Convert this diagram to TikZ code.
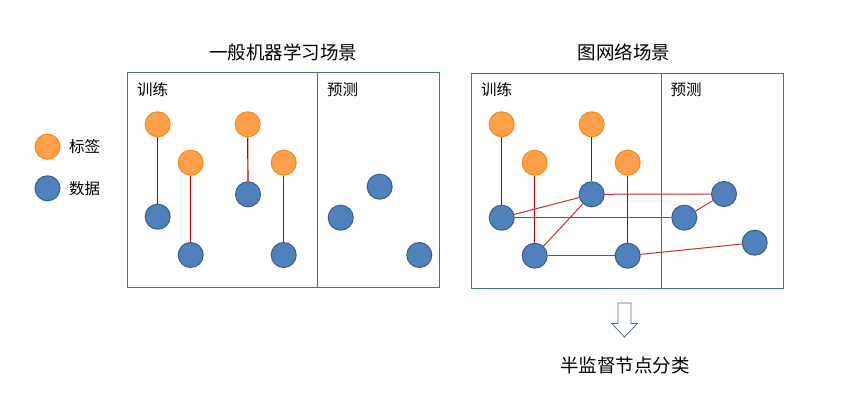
\documentclass[tikz,border=0pt]{standalone}
\usepackage{fontspec}
\setmainfont{Noto Sans CJK SC}
\definecolor{lblfill}{HTML}{FF9F4A}
\definecolor{lbldraw}{HTML}{F08A1C}
\definecolor{datfill}{HTML}{4F81BD}
\definecolor{datdraw}{HTML}{385D8A}
\definecolor{boxc}{HTML}{4A6C9B}
\definecolor{edgec}{HTML}{C00000}
\definecolor{gedgec}{HTML}{C0302D}
\definecolor{arrc}{HTML}{4A6FA5}
\tikzset{
  lbl/.style={circle, minimum size=25pt, inner sep=0pt, fill=lblfill, draw=lbldraw, line width=1pt},
  dat/.style={circle, minimum size=25pt, inner sep=0pt, fill=datfill, draw=datdraw, line width=1pt},
  panel/.style={draw=boxc, line width=1pt},
  edge/.style={draw=edgec, line width=1.2pt},
  gedge/.style={draw=gedgec, line width=1pt},
  title/.style={font=\fontsize{18.5pt}{22pt}\selectfont, inner sep=0pt},
  tag/.style={font=\fontsize{15.5pt}{19pt}\selectfont, inner sep=0pt}
}
\begin{document}
\begin{tikzpicture}[x=1pt,y=-1pt]
\useasboundingbox (0,0) rectangle (868,414);
% titles
\node[title] (t1) at (283.3,52) {一般机器学习场景};
\node[title] (t2) at (623.8,52) {图网络场景};
% left panel
\draw[panel] (127,73) rectangle (439,288);
\draw[panel] (317,73) -- (317,288);
\node[tag] (l1) at (152.7,90) {训练};
\node[tag] (l2) at (342.7,90) {预测};
\node[lbl] (a1) at (157.7,124.3) {};
\node[lbl] (a2) at (190.7,162.7) {};
\node[lbl] (a3) at (247.7,124.3) {};
\node[lbl] (a4) at (283.7,162.7) {};
\node[dat] (b1) at (157.7,216.7) {};
\node[dat] (b2) at (190.7,255) {};
\node[dat] (b3) at (248,194.3) {};
\node[dat] (b4) at (283.7,255) {};
\node[dat] (p1) at (340.7,217.7) {};
\node[dat] (p2) at (379.7,186.7) {};
\node[dat] (p3) at (419.3,255) {};
% right panel
\draw[panel] (471.7,73.3) rectangle (783.3,288.3);
\draw[panel] (661.3,73.3) -- (661.3,288.3);
\node[tag] (r1) at (496.7,90) {训练};
\node[tag] (r2) at (686,90) {预测};
\node[lbl] (c1) at (501.7,124.3) {};
\node[lbl] (c2) at (534.7,162.7) {};
\node[lbl] (c3) at (591.7,124.3) {};
\node[lbl] (c4) at (627.7,162.7) {};
\node[dat] (d1) at (501.7,217.7) {};
\node[dat] (d2) at (534.7,255.7) {};
\node[dat] (d3) at (591.7,194.3) {};
\node[dat] (d4) at (627.7,255.7) {};
\node[dat] (q1) at (684.3,217.7) {};
\node[dat] (q2) at (724,194) {};
\node[dat] (q3) at (754.7,242.7) {};
% edges left
\draw[edge] (a1) -- (b1);
\draw[edge] (a2) -- (b2);
\draw[edge] (a3) -- (b3);
\draw[edge] (a4) -- (b4);
% edges right
\draw[edge] (c1) -- (d1);
\draw[edge] (c2) -- (d2);
\draw[edge] (c3) -- (d3);
\draw[edge] (c4) -- (d4);
\draw[gedge] (d1) -- (d3);
\draw[gedge] (d1) -- (q1);
\draw[gedge] (d2) -- (d3);
\draw[gedge] (d2) -- (d4);
\draw[gedge] (d3) -- (q2);
\draw[gedge] (q1) -- (q2);
\draw[gedge] (d4) -- (q3);
% legend
\node[lbl] (k1) at (47.5,146.7) {};
\node[tag, anchor=west] (k1t) at (69,146.7) {标签};
\node[dat] (k2) at (47.5,188.3) {};
\node[tag, anchor=west] (k2t) at (69,188.3) {数据};
% arrow
\draw[draw=arrc, line width=0.8pt, fill=white] (618,303) -- (631,303) -- (631,323.5) -- (637.3,323.5) -- (624.5,337) -- (611.7,323.5) -- (618,323.5) -- cycle;
\node[title] (res) at (625,365) {半监督节点分类};
\end{tikzpicture}
\end{document}
